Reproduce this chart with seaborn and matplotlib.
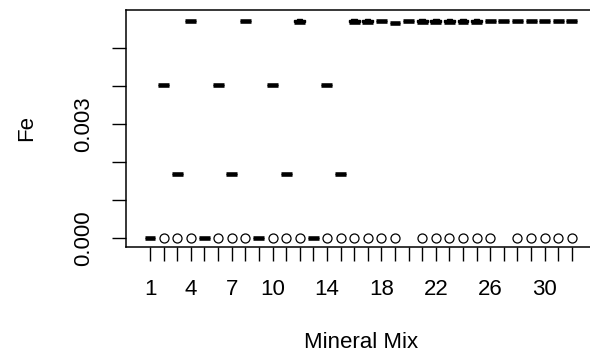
import matplotlib
matplotlib.use("Agg")
import matplotlib.pyplot as plt
import numpy as np
import pandas as pd
import seaborn as sns

# Mineral mix categories and Fe summary per mix
mixes = [str(i) for i in range(1, 33)]
fe_median = [0.0, 0.00402, 0.00168, 0.00571, 0.0, 0.00402, 0.00168, 0.00571,
             0.0, 0.00402, 0.00168, 0.00567, 0.0, 0.00402, 0.00168, 0.00567,
             0.00567, 0.00571, 0.00565, 0.00571, 0.00567, 0.00567, 0.00567, 0.00567,
             0.00567, 0.00571, 0.00571, 0.00571, 0.00571, 0.00571, 0.00571, 0.00571]
fe_upper = [0.0, 0.00402, 0.00168, 0.00571, 0.0, 0.00402, 0.00168, 0.00571,
            0.0, 0.00402, 0.00168, 0.00575, 0.0, 0.00402, 0.00168, 0.00575,
            0.00575, 0.00571, 0.00565, 0.00571, 0.00575, 0.00575, 0.00575, 0.00575,
            0.00575, 0.00571, 0.00571, 0.00571, 0.00571, 0.00571, 0.00571, 0.00571]
# mixes that also contain a zero-Fe observation
has_zero = [0, 1, 1, 1, 0, 1, 1, 1, 0, 1, 1, 1, 0, 1, 1, 1,
            1, 1, 1, 0, 1, 1, 1, 1, 1, 1, 0, 1, 1, 1, 1, 1]

x_labels = ["1", "", "", "4", "", "", "7", "", "", "10", "", "", "", "14", "", "",
            "", "18", "", "", "", "22", "", "", "", "26", "", "", "", "30", "", ""]
y_ticks = [0.000, 0.001, 0.002, 0.003, 0.004, 0.005]
y_labels = ["0.000", "", "", "0.003", "", ""]

rows = []
for mix, med, up, z in zip(mixes, fe_median, fe_upper, has_zero):
    obs = [med, med, med, up, up]
    if z:
        obs = [0.0] + obs
    rows += [(mix, v) for v in obs]
df = pd.DataFrame(rows, columns=["Mineral Mix", "Fe"])

sns.set_style("white")
plt.rcParams["font.family"] = ["Liberation Sans", "DejaVu Sans"]

fig = plt.figure(figsize=(5.9, 3.61), dpi=100)
ax = fig.add_axes([0.2131, 0.3166, 0.7974, 0.6557])

sns.boxplot(
    data=df, x="Mineral Mix", y="Fe", order=mixes, ax=ax,
    color="white", linecolor="black", linewidth=1.0, width=0.8,
    whis=1.5, fliersize=6.5,
    medianprops=dict(linewidth=3.3, solid_capstyle="butt", color="black"),
    whiskerprops=dict(linestyle="--"),
    flierprops=dict(marker="o", markerfacecolor="none",
                    markeredgecolor="black", markeredgewidth=0.9),
)

ax.set_xlim(-1.785, 32.785)
ax.set_ylim(-0.000237, 0.005992)

ax.set_xticks(range(len(mixes)))
ax.set_xticklabels(x_labels)
ax.set_yticks(y_ticks)
ax.set_yticklabels(y_labels, rotation=90, va="center")

ax.tick_params(axis="both", direction="out", length=10, width=1.0,
               color="black", labelsize=16, labelcolor="black", pad=13)
ax.tick_params(axis="both", which="both", bottom=True, left=True)

for s in ax.spines.values():
    s.set_visible(True)
    s.set_color("black")
    s.set_linewidth(1.1)

ax.set_xlabel("Mineral Mix", fontsize=16, labelpad=23, color="black")
ax.set_ylabel("Fe", fontsize=16, labelpad=26, color="black")
ax.grid(False)

fig.savefig("out.png", dpi=100)
